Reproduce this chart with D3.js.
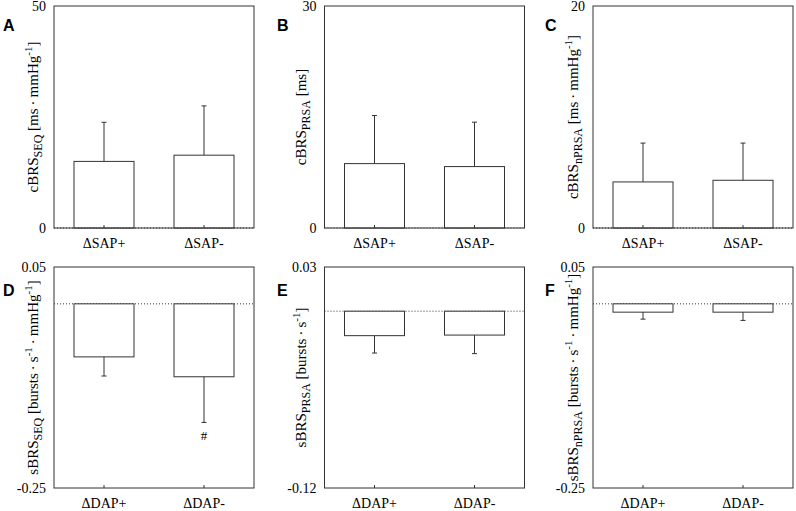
<!DOCTYPE html>
<html><head><meta charset="utf-8">
<script src="https://cdnjs.cloudflare.com/ajax/libs/d3/7.8.5/d3.min.js"></script>
<style>
html,body{margin:0;padding:0;background:#fff;}
svg{display:block;}
text{font-family:"Liberation Serif","Times New Roman",serif;fill:#000;}
.letter{font-family:"Liberation Sans",Arial,sans-serif;font-weight:bold;font-size:16px;}
</style>
</head><body>
<svg id="chart" width="796" height="511"></svg>
<script>
// ---- data ----
const panelLetters = ["A","B","C","D","E","F"];
const topCategories = ["ΔSAP+","ΔSAP-"];
const bottomCategories = ["ΔDAP+","ΔDAP-"];

const meanA = [15.0, 16.4];   const sdA = [8.8, 11.1];
const meanB = [8.7, 8.3];     const sdB = [6.5, 6.0];
const meanC = [4.15, 4.3];    const sdC = [3.5, 3.35];
const meanD = [-0.072, -0.099]; const sdD = [0.026, 0.062];
const meanE = [-0.0166, -0.0162]; const sdE = [0.0118, 0.0126];
const meanF = [-0.0113, -0.0113]; const sdF = [0.0095, 0.0112];

const domainA = [0, 50], domainB = [0, 30], domainC = [0, 20];
const domainD = [-0.25, 0.05], domainE = [-0.12, 0.03], domainF = [-0.25, 0.05];
const ticksA = ["0","50"], ticksB = ["0","30"], ticksC = ["0","20"];
const ticksD = ["-0.25","0.05"], ticksE = ["-0.12","0.03"], ticksF = ["-0.25","0.05"];
const markD = ["", "#"];

// label parts: [text, type] type: n normal, sub, sup
const labelA = [["cBRS","n"],["SEQ","sub"],[" [ms\u2009·\u2009mmHg","n"],["-1","sup"],["]","n"]];
const labelB = [["cBRS","n"],["PRSA","sub"],[" [ms]","n"]];
const labelC = [["cBRS","n"],["nPRSA","sub"],[" [ms\u2009·\u2009mmHg","n"],["-1","sup"],["]","n"]];
const labelD = [["sBRS","n"],["SEQ","sub"],[" [bursts\u2009·\u2009s","n"],["-1","sup"],["\u2009·\u2009mmHg","n"],["-1","sup"],["]","n"]];
const labelE = [["sBRS","n"],["PRSA","sub"],[" [bursts\u2009·\u2009s","n"],["-1","sup"],["]","n"]];
const labelF = [["sBRS","n"],["nPRSA","sub"],[" [bursts\u2009·\u2009s","n"],["-1","sup"],["\u2009·\u2009mmHg","n"],["-1","sup"],["]","n"]];

// ---- layout ----
const lefts = [54, 324.5, 593];
const plotW = 200;
const tops = [6, 267];
const bottoms = [228, 488];
const labelX = [38, 306, 578];
const letterX = [3, 277, 545];
const letterY = [31, 296];
const serif = '"Liberation Serif","Times New Roman",serif';

const panels = [
  {row:0,col:0,cats:topCategories,mean:meanA,sd:sdA,dom:domainA,ticks:ticksA,label:labelA},
  {row:0,col:1,cats:topCategories,mean:meanB,sd:sdB,dom:domainB,ticks:ticksB,label:labelB},
  {row:0,col:2,cats:topCategories,mean:meanC,sd:sdC,dom:domainC,ticks:ticksC,label:labelC},
  {row:1,col:0,cats:bottomCategories,mean:meanD,sd:sdD,dom:domainD,ticks:ticksD,label:labelD,marks:markD},
  {row:1,col:1,cats:bottomCategories,mean:meanE,sd:sdE,dom:domainE,ticks:ticksE,label:labelE},
  {row:1,col:2,cats:bottomCategories,mean:meanF,sd:sdF,dom:domainF,ticks:ticksF,label:labelF},
];

const svg = d3.select("#chart");
const lineCol = "#333";

panels.forEach((p, i) => {
  const x0 = lefts[p.col], x1 = x0 + plotW;
  const y0 = tops[p.row], y1 = bottoms[p.row];
  const x = d3.scaleBand().domain(p.cats).range([x0, x1]).paddingInner(0.4).paddingOuter(0.2);
  const y = d3.scaleLinear().domain(p.dom).range([y1, y0]);
  const g = svg.append("g");

  // dotted zero line
  g.append("line").attr("x1", x0).attr("x2", x1).attr("y1", y(0)).attr("y2", y(0))
    .attr("stroke", lineCol).attr("stroke-width", 1).attr("stroke-dasharray", "1,2");

  const data = p.cats.map((c, k) => ({c, m: p.mean[k], s: p.sd[k], mark: p.marks ? p.marks[k] : ""}));

  // bars
  g.selectAll("rect.bar").data(data).join("rect").attr("class","bar")
    .attr("x", d => x(d.c)).attr("width", x.bandwidth())
    .attr("y", d => Math.min(y(0), y(d.m))).attr("height", d => Math.abs(y(d.m) - y(0)))
    .attr("fill", "#fff").attr("stroke", lineCol).attr("stroke-width", 1);

  // error bars
  const eEnd = d => d.m >= 0 ? d.m + d.s : d.m - d.s;
  const cx = d => x(d.c) + x.bandwidth() / 2;
  g.selectAll("line.err").data(data).join("line").attr("class","err")
    .attr("x1", cx).attr("x2", cx).attr("y1", d => y(d.m)).attr("y2", d => y(eEnd(d)))
    .attr("stroke", lineCol).attr("stroke-width", 1);
  g.selectAll("line.cap").data(data).join("line").attr("class","cap")
    .attr("x1", d => cx(d) - 2.5).attr("x2", d => cx(d) + 2.5)
    .attr("y1", d => y(eEnd(d))).attr("y2", d => y(eEnd(d)))
    .attr("stroke", lineCol).attr("stroke-width", 1);

  // significance marks
  g.selectAll("text.mark").data(data.filter(d => d.mark)).join("text").attr("class","mark")
    .attr("x", cx).attr("y", d => y(eEnd(d)) + 18).attr("text-anchor","middle")
    .attr("font-size", 13).text(d => d.mark);

  // frame
  g.append("rect").attr("x", x0).attr("y", y0).attr("width", plotW).attr("height", y1 - y0)
    .attr("fill", "none").attr("stroke", lineCol).attr("stroke-width", 1);

  // x axis
  const xAxis = d3.axisBottom(x).tickSizeInner(-3).tickSizeOuter(0).tickPadding(10);
  const xa = g.append("g").attr("transform", `translate(0,${y1})`).call(xAxis)
    .attr("font-family", null).attr("font-size", null);
  xa.select(".domain").remove();
  xa.selectAll(".tick line").attr("stroke", lineCol);
  xa.selectAll(".tick text").style("font-family", serif).style("font-size", "14px").attr("fill", "#000");

  // y axis (labels only)
  const tickVals = p.ticks.map(Number);
  const yAxis = d3.axisLeft(y).tickValues(tickVals).tickSize(0).tickPadding(8)
    .tickFormat((d, k) => p.ticks[k]);
  const ya = g.append("g").attr("transform", `translate(${x0},0)`).call(yAxis)
    .attr("font-family", null).attr("font-size", null);
  ya.select(".domain").remove();
  ya.selectAll(".tick text").style("font-family", serif).style("font-size", "14px").attr("fill", "#000");

  // y label
  const lx = labelX[p.col], ly = (y0 + y1) / 2;
  const t = g.append("text").attr("transform", `translate(${lx},${ly}) rotate(-90)`)
    .attr("text-anchor", "middle").attr("font-size", 15);
  let shift = 0;
  p.label.forEach(([txt, type]) => {
    let target = type === "sub" ? 4 : type === "sup" ? -6 : 0;
    t.append("tspan").attr("dy", target - shift)
      .attr("font-size", type === "n" ? 15 : (type === "sub" ? 12 : 11)).text(txt);
    shift = target;
  });
  if (shift !== 0) t.append("tspan").attr("dy", -shift).text("");

  // panel letter
  svg.append("text").attr("class","letter").attr("x", letterX[p.col]).attr("y", letterY[p.row])
    .text(panelLetters[i]);
});
</script>
</body></html>
